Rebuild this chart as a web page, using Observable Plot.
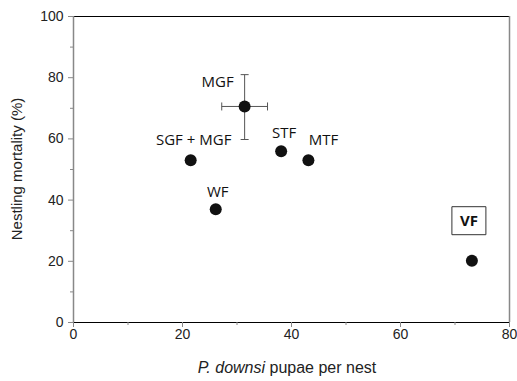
<!DOCTYPE html>
<html>
<head>
<meta charset="utf-8">
<script src="https://cdn.jsdelivr.net/npm/d3@7"></script>
<script src="https://cdn.jsdelivr.net/npm/@observablehq/plot@0.6"></script>
<style>
  body { margin: 0; background: #fff; }
  #chart svg { display: block; }
  #chart g[aria-label$="tick label"] { font-size: 14px; font-family: 'Liberation Sans', Arial, sans-serif; }
</style>
</head>
<body>
<div id="chart"></div>
<script>
// ---- data ----
const labels = ["MGF", "SGF + MGF", "STF", "MTF", "WF", "VF"];
const pupae = [31.4, 21.5, 38.1, 43.1, 26.1, 73.1];
const mortality = [70.6, 53, 56, 53, 37, 20.2];
// error bars (MGF only)
const errLabel = ["MGF"];
const errXLow = [27.2];
const errXHigh = [35.6];
const errYLow = [59.8];
const errYHigh = [81.0];
const xTicks = [0, 20, 40, 60, 80];
const yTicks = [0, 20, 40, 60, 80, 100];
const yMinorTicks = [10, 30, 50, 70, 90];
const xMinorTicks = [10, 30, 50, 70];

const pts = labels.map((l, i) => ({label: l, x: pupae[i], y: mortality[i]}));
const errs = errLabel.map((l, i) => {
  const p = pts.find(d => d.label === l);
  return {label: l, x: p.x, y: p.y, xlo: errXLow[i], xhi: errXHigh[i], ylo: errYLow[i], yhi: errYHigh[i]};
});

// label offsets (style, in px)
const off = {
  "MGF": [-27, -24],
  "SGF + MGF": [3, -20],
  "STF": [3, -18],
  "MTF": [15, -20],
  "WF": [2, -17],
  "VF": [-3, -40]
};

const hCap = {draw(ctx, size) { ctx.moveTo(-4, 0); ctx.lineTo(4, 0); }};
const vCap = {draw(ctx, size) { ctx.moveTo(0, -4); ctx.lineTo(0, 4); }};
const box = {draw(ctx, size) { ctx.rect(-17, -14, 34, 28); }};

const grey = "#888";
const labelFont = "'Open Sans', 'Noto Sans', sans-serif";

const marks = [
  // frame
  Plot.ruleY([100], {stroke: "#000", strokeWidth: 1}),
  Plot.ruleX([80], {stroke: grey, strokeWidth: 1.5}),
  Plot.ruleX([0], {stroke: grey, strokeWidth: 1.5}),
  Plot.ruleY([0], {stroke: "#000", strokeWidth: 1}),
  // axes
  Plot.axisY(yTicks, {tickSize: 5, tickPadding: 5, stroke: grey, fill: "#222", fontSize: 14, label: null}),
  Plot.axisY(yMinorTicks, {tickSize: 3, text: null, stroke: grey, label: null}),
  Plot.axisX(xTicks, {tickSize: 5, tickPadding: 2, stroke: grey, fill: "#222", fontSize: 14, label: null}),
  Plot.axisX(xMinorTicks, {tickSize: 3, text: null, stroke: grey, label: null}),
  // error bars
  Plot.link(errs, {x1: "x", x2: "x", y1: "ylo", y2: "yhi", stroke: "#555", strokeWidth: 1}),
  Plot.link(errs, {x1: "xlo", x2: "xhi", y1: "y", y2: "y", stroke: "#555", strokeWidth: 1}),
  Plot.dot(errs, {x: "x", y: "ylo", symbol: hCap, r: 4, stroke: "#555", strokeWidth: 1}),
  Plot.dot(errs, {x: "x", y: "yhi", symbol: hCap, r: 4, stroke: "#555", strokeWidth: 1}),
  Plot.dot(errs, {x: "xlo", y: "y", symbol: vCap, r: 4, stroke: "#555", strokeWidth: 1}),
  Plot.dot(errs, {x: "xhi", y: "y", symbol: vCap, r: 4, stroke: "#555", strokeWidth: 1}),
  // points
  Plot.dot(pts, {x: "x", y: "y", r: 6, fill: "#111", stroke: "none"}),
  // VF box
  Plot.dot(pts.filter(d => d.label === "VF"), {x: "x", y: "y", symbol: box, r: 5, stroke: "#333", strokeWidth: 1, fill: "white", dx: off["VF"][0], dy: off["VF"][1]})
];
for (const p of pts) {
  const [dx, dy] = off[p.label];
  marks.push(Plot.text([p], {
    x: "x", y: "y", text: "label", dx, dy,
    fontSize: 15, fill: "#111", fontFamily: labelFont,
    fontWeight: p.label === "VF" ? "bold" : "normal"
  }));
}

const chart = Plot.plot({
  width: 517,
  height: 381,
  marginLeft: 73,
  marginRight: 8,
  marginTop: 16,
  marginBottom: 59,
  style: {fontFamily: "'Liberation Sans', Arial, sans-serif", background: "white"},
  x: {domain: [0, 80]},
  y: {domain: [0, 100]},
  marks
});

const svg = d3.select(chart);
// y axis title
svg.append("text")
  .attr("transform", "translate(18,169) rotate(-90)")
  .attr("text-anchor", "middle")
  .attr("dominant-baseline", "middle")
  .attr("font-size", 15)
  .attr("fill", "#222")
  .attr("font-family", "'Liberation Sans', Arial, sans-serif")
  .text("Nestling mortality (%)");
// x axis title with italic species name
const xt = svg.append("text")
  .attr("x", 287).attr("y", 369)
  .attr("text-anchor", "middle")
  .attr("dominant-baseline", "middle")
  .attr("font-size", 16)
  .attr("fill", "#222")
  .attr("font-family", "'Liberation Sans', Arial, sans-serif");
xt.append("tspan").attr("font-style", "italic").text("P. downsi");
xt.append("tspan").text(" pupae per nest");

document.getElementById("chart").appendChild(chart);
</script>
</body>
</html>
